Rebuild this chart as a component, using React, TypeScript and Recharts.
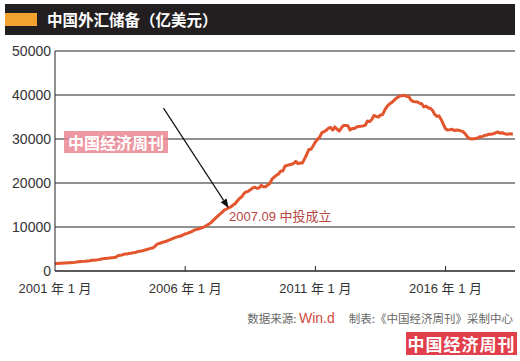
import React from "react";
import { LineChart, Line, XAxis, YAxis, CartesianGrid, ReferenceLine } from "recharts";

// 中国外汇储备 月末值（亿美元），2001年1月起
const reserves = [
  // 2001
  1689, 1731, 1751, 1775, 1800, 1806, 1850, 1879, 1905, 1959, 2034, 2122,
  // 2002
  2149, 2187, 2213, 2279, 2345, 2425, 2465, 2522, 2583, 2658, 2771, 2864,
  // 2003
  2922, 2962, 3016, 3050, 3139, 3465, 3566, 3646, 3837, 3839, 3979, 4033,
  // 2004
  4157, 4190, 4398, 4470, 4525, 4706, 4830, 4983, 5145, 5246, 5559, 6099,
  // 2005
  6236, 6426, 6591, 6706, 6910, 7110, 7327, 7533, 7690, 7857, 7945, 8189,
  // 2006
  8451, 8537, 8751, 8950, 9250, 9411, 9545, 9720, 9879, 10096, 10385, 10663,
  // 2007
  11046, 11566, 12020, 12466, 12926, 13326, 13852, 14086, 14336, 14547, 14969, 15282,
  // 2008
  15898, 16471, 16822, 17566, 17969, 18088, 18451, 18841, 19056, 18797, 18847, 19460,
  // 2009
  19135, 19121, 19537, 19890, 20891, 21316, 21746, 22046, 22726, 22728, 23856, 23992,
  // 2010
  24152, 24245, 24471, 24905, 24395, 24543, 24538, 25481, 26483, 27601, 27684, 28473,
  // 2011
  29316, 29914, 30447, 31458, 31663, 31975, 32452, 32625, 32017, 32738, 32209, 31811,
  // 2012
  32536, 33096, 33050, 32989, 32061, 32400, 32400, 32729, 32850, 32874, 32977, 33116,
  // 2013
  34100, 33955, 34426, 35345, 35148, 34967, 35478, 35530, 36627, 37366, 37895, 38213,
  // 2014
  38666, 39137, 39480, 39788, 39838, 39932, 39662, 39688, 38877, 38529, 38474, 38430,
  // 2015
  38134, 38015, 37300, 37481, 37111, 36938, 36513, 35574, 35141, 35255, 34383, 33304,
  // 2016
  32309, 32023, 32126, 32197, 31917, 32052, 32011, 31851, 31664, 31206, 30516, 30105,
  // 2017
  29982, 30051, 30091, 30295, 30536, 30568, 30807, 30915, 31085, 31092, 31193, 31399,
  // 2018
  31614, 31345, 31428, 31249, 31106, 31121, 31179, 31097,
];

const tickMonths = [0, 60, 120, 180];
const tickLabels = ["2001 年 1 月", "2006 年 1 月", "2011 年 1 月", "2016 年 1 月"];
const yTicks = [0, 10000, 20000, 30000, 40000, 50000];

// 箭头：起点与指向 2007.09（中投成立）
const arrowFrom = { x: 50, y: 37000 };
const arrowTo = { x: 80, y: 14336 };

const data = reserves.map((v, i) => ({ m: i, v }));

const latin = '"Liberation Sans", Arial, "Noto Sans CJK SC", sans-serif';
const cjk = '"Noto Sans CJK SC", sans-serif';

function XTick({ x, y, payload, index }: any) {
  const i = tickMonths.indexOf(payload.value);
  return (
    <g>
      {index > 0 && <line x1={x} x2={x} y1={y - 5} y2={y} stroke="#222" strokeWidth={1} />}
      <text x={x} y={y + 22} textAnchor="middle" fill="#333" fontSize={13} fontFamily={latin}>
        {tickLabels[i]}
      </text>
    </g>
  );
}

function Arrow(props: any) {
  const { x1, y1, x2, y2 } = props;
  if (x1 == null || x2 == null) return null;
  const dx = x2 - x1, dy = y2 - y1;
  const len = Math.sqrt(dx * dx + dy * dy) || 1;
  const ux = dx / len, uy = dy / len;
  const hl = 9, hw = 3.5;
  const bx = x2 - ux * hl, by = y2 - uy * hl;
  const pts = `${x2},${y2} ${bx - uy * hw},${by + ux * hw} ${bx + uy * hw},${by - ux * hw}`;
  return (
    <g>
      <line x1={x1} y1={y1} x2={bx} y2={by} stroke="#111" strokeWidth={1.2} />
      <polygon points={pts} fill="#111" />
    </g>
  );
}

export default function App() {
  return (
    <div style={{ position: "absolute", left: 0, top: 0, width: 520, height: 361, background: "#fff", fontFamily: latin }}>
      {/* 标题栏 */}
      <div style={{ position: "absolute", left: 5, top: 4, width: 510, height: 31, background: "#231f20" }}>
        <div style={{ position: "absolute", left: 0, top: 9, width: 32, height: 13, background: "#f2a22e" }} />
        <div style={{
          position: "absolute", left: 42, top: 0, height: 31, lineHeight: "31px",
          color: "#fff", fontSize: 15.5, fontWeight: 700, fontFamily: cjk, whiteSpace: "nowrap",
        }}>
          中国外汇储备（亿美元）
        </div>
      </div>

      <LineChart width={520} height={361} data={data} margin={{ top: 51, right: 5, bottom: 60, left: 0 }}>
        <CartesianGrid vertical={false} stroke="#222" strokeWidth={1} />
        <XAxis
          dataKey="m" type="number" domain={[0, 212]} ticks={tickMonths}
          height={30} tickSize={0} tickMargin={0} tickLine={false}
          axisLine={{ stroke: "#222" }} tick={<XTick />} interval={0}
        />
        <YAxis
          domain={[0, 50000]} ticks={yTicks} width={55} tickSize={0} tickMargin={4}
          tickLine={false} axisLine={{ stroke: "#222" }}
          tick={{ fill: "#333", fontSize: 14, fontFamily: latin }} interval={0}
        />
        <Line
          dataKey="v" type="linear" stroke="#e2552d" strokeWidth={3}
          dot={false} isAnimationActive={false} strokeLinejoin="round"
        />
        <ReferenceLine segment={[arrowFrom, arrowTo]} shape={<Arrow />} />
      </LineChart>

      {/* 水印 */}
      <div style={{
        position: "absolute", left: 64, top: 131, width: 104, height: 22, background: "rgba(232,128,140,0.8)",
        color: "#fff", fontSize: 16, fontWeight: 700, fontFamily: cjk, lineHeight: "22px", textAlign: "center",
        whiteSpace: "nowrap",
      }}>
        中国经济周刊
      </div>

      {/* 注释 */}
      <div style={{
        position: "absolute", left: 229, top: 209, fontSize: 13, color: "#b5463f",
        fontFamily: latin, lineHeight: "16px", whiteSpace: "nowrap",
      }}>
        2007.09 中投成立
      </div>

      {/* 数据来源 */}
      <div style={{
        position: "absolute", right: 7, top: 309, fontSize: 11.5, color: "#666",
        fontFamily: cjk, lineHeight: "18px", whiteSpace: "nowrap",
      }}>
        数据来源: <span style={{ color: "#cf4a42", fontFamily: latin, fontSize: 14 }}>Win.d</span>
        <span style={{ display: "inline-block", width: 14 }} />
        制表:《中国经济周刊》采制中心
      </div>

      {/* 刊名标 */}
      <div style={{
        position: "absolute", left: 406, top: 332, width: 111, height: 23, background: "#e23f4c",
        color: "#fff", fontSize: 17, fontWeight: 700, fontFamily: cjk, lineHeight: "23px", textAlign: "center",
        whiteSpace: "nowrap", letterSpacing: 1,
      }}>
        中国经济周刊
      </div>
    </div>
  );
}
